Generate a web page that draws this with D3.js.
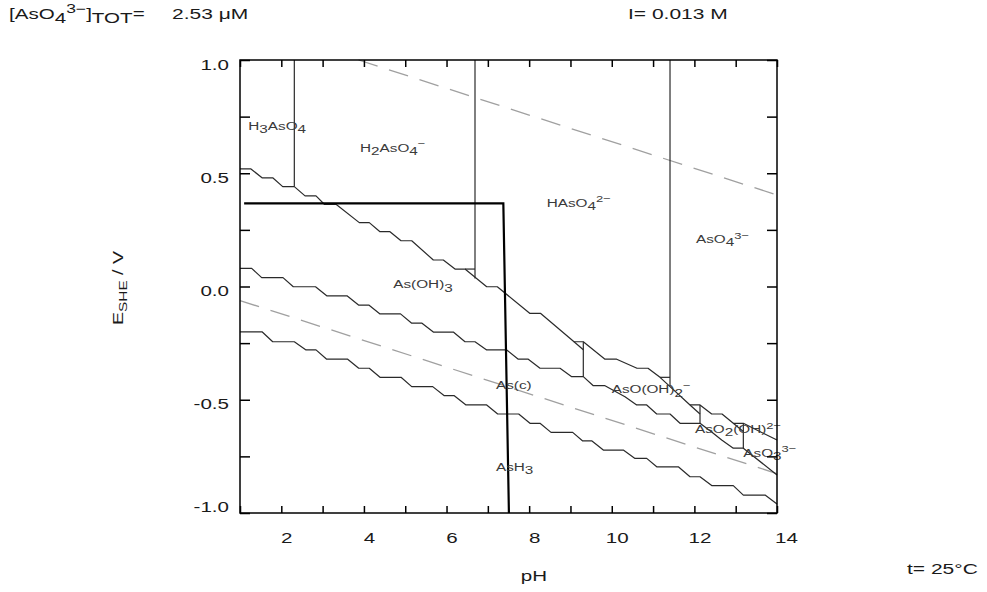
<!DOCTYPE html>
<html><head><meta charset="utf-8">
<script src="https://cdn.jsdelivr.net/npm/d3@7"></script>
<style>body{margin:0;background:#fff} svg{display:block}</style>
</head><body>
<svg id="c" width="987" height="592"></svg>
<script>
// ---------- data ----------
const pHDomain = [1, 14];
const EDomain = [-1, 1];
const pHTicks = [1, 2, 3, 4, 5, 6, 7, 8, 9, 10, 11, 12, 13, 14];
const pHTickLabels = ["", "2", "", "4", "", "6", "", "8", "", "10", "", "12", "", "14"];
const ETicks = [-1, -0.75, -0.5, -0.25, 0, 0.25, 0.5, 0.75, 1];
const ETickLabels = ["-1.0", "", "-0.5", "", "0.0", "", "0.5", "", "1.0"];

// As(V) / As(III) boundary
const lineAsV_AsIII = [
  [1.00, 0.519], [1.266, 0.519], [1.533, 0.480], [1.792, 0.480], [2.034, 0.441], [2.315, 0.441],
  [2.574, 0.400], [2.840, 0.400], [3.041, 0.363], [3.324, 0.363], [3.888, 0.282], [4.130, 0.282],
  [4.389, 0.242], [4.631, 0.242], [4.898, 0.202], [5.157, 0.202], [5.680, 0.117], [5.922, 0.117],
  [6.205, 0.077], [6.447, 0.077], [6.972, -0.001], [7.229, -0.001], [8.020, -0.119], [8.280, -0.119],
  [9.086, -0.244], [9.311, -0.244], [9.836, -0.321], [10.119, -0.321], [10.611, -0.361], [10.877, -0.361],
  [11.168, -0.401], [11.894, -0.523], [12.136, -0.523], [12.419, -0.563], [12.669, -0.563],
  [12.942, -0.604], [13.185, -0.604], [14.0, -0.678]
];
// As(III) / As(c) boundary
const lineAsIII_As = [
  [1.000, 0.080], [1.283, 0.080], [1.525, 0.039], [2.041, 0.039], [2.290, -0.001], [2.828, -0.001],
  [3.099, -0.041], [3.590, -0.041], [3.869, -0.082], [4.118, -0.082], [4.389, -0.121], [4.886, -0.121],
  [5.157, -0.162], [5.406, -0.162], [5.680, -0.201], [6.164, -0.201], [6.447, -0.244], [6.689, -0.244],
  [6.972, -0.280], [7.456, -0.280], [7.737, -0.321], [7.979, -0.321], [8.263, -0.361], [8.747, -0.361],
  [9.030, -0.398], [9.311, -0.398], [9.553, -0.438], [9.836, -0.438], [10.320, -0.487], [10.603, -0.523],
  [10.846, -0.523], [11.088, -0.563], [11.410, -0.563], [11.652, -0.604], [12.136, -0.604],
  [12.419, -0.642], [12.661, -0.678], [12.942, -0.714], [13.185, -0.714], [14.0, -0.832]
];
// As(c) / AsH3 boundary
const lineAs_AsH3 = [
  [1.000, -0.200], [1.533, -0.200], [1.792, -0.244], [2.315, -0.244], [2.598, -0.280], [2.840, -0.280],
  [3.099, -0.321], [3.607, -0.321], [3.874, -0.361], [4.130, -0.361], [4.389, -0.401], [4.898, -0.401],
  [5.157, -0.442], [5.665, -0.442], [5.946, -0.482], [6.188, -0.482], [6.471, -0.523], [6.972, -0.523],
  [7.238, -0.563], [7.747, -0.563], [8.020, -0.604], [8.263, -0.604], [8.529, -0.644], [9.054, -0.644],
  [9.296, -0.682], [9.521, -0.682], [9.795, -0.722], [10.279, -0.722], [10.562, -0.759], [10.846, -0.759],
  [11.088, -0.796], [11.611, -0.796], [11.894, -0.840], [12.136, -0.840], [12.419, -0.879], [12.942, -0.879],
  [13.185, -0.921], [13.711, -0.921], [14.0, -0.960]
];
// vertical boundaries: [pH, E top, E bottom]
const verticalBoundaries = [
  [2.315, 1.0, 0.441], [6.689, 1.0, 0.035], [11.410, 1.0, -0.439],
  [9.311, -0.244, -0.398], [12.136, -0.523, -0.604], [13.185, -0.604, -0.714]
];
// small joining segments at the junctions
const junctionSegments = [
  [[6.447, 0.077], [6.689, 0.077]],
  [[11.168, -0.401], [11.410, -0.401]],
  [[9.086, -0.244], [9.311, -0.279]],
  [[11.894, -0.523], [12.136, -0.563]],
  [[12.942, -0.604], [13.185, -0.640]]
];
const waterO2 = [[3.87, 1.0], [14.0, 0.404]];
const waterH2 = [[1.0, -0.062], [14.0, -0.826]];
const thickLine = [[1.10, 0.367], [7.375, 0.367], [7.51, -1.0]];

const speciesNames = [
  [["H", ""], ["3", "sub"], ["AsO", ""], ["4", "sub"]],
  [["H", ""], ["2", "sub"], ["AsO", ""], ["4", "sub"], ["−", "sup"]],
  [["HAsO", ""], ["4", "sub"], ["2−", "sup"]],
  [["AsO", ""], ["4", "sub"], ["3−", "sup"]],
  [["As(OH)", ""], ["3", "sub"]],
  [["As(c)", ""]],
  [["AsO(OH)", ""], ["2", "sub"], ["−", "sup"]],
  [["AsO", ""], ["2", "sub"], ["(OH)", ""], ["2−", "sup"]],
  [["AsO", ""], ["3", "sub"], ["3−", "sup"]],
  [["AsH", ""], ["3", "sub"]]
];
const speciesPH = [1.20, 3.905, 8.425, 12.04, 4.711, 7.197, 9.998, 12.015, 13.185, 7.197];
const speciesE = [0.691, 0.594, 0.352, 0.191, -0.008, -0.453, -0.472, -0.648, -0.751, -0.813];

// ---------- drawing ----------
const svg = d3.select("#c");
const FONT = "'Liberation Sans', Arial, Helvetica, sans-serif";
const x = d3.scaleLinear().domain(pHDomain).range([240, 777]);
const y = d3.scaleLinear().domain(EDomain).range([513, 60]);
const line = d3.line().x(d => x(d[0])).y(d => y(d[1]));

function rich(g, parts, size) {
  const t = g.append("text").attr("font-family", FONT).attr("font-size", size).attr("fill", "#222");
  let shift = 0;
  parts.forEach(([txt, kind]) => {
    const target = kind === "sub" ? 0.28 * size : kind === "sup" ? -0.4 * size : 0;
    const ts = t.append("tspan").text(txt).attr("dy", target - shift);
    if (kind === "sup") ts.attr("font-size", size * 0.85);
    shift = target;
  });
  return t;
}
function stretched(px, py, sx) {
  return svg.append("g").attr("transform", `translate(${px},${py}) scale(${sx},1)`);
}

// plot lines
const plot = svg.append("g");
[waterO2, waterH2].forEach(w => {
  plot.append("path").datum(w).attr("d", line).attr("fill", "none")
    .attr("stroke", "#a0a0a0").attr("stroke-width", 1.3).attr("stroke-dasharray", "20,12");
});
[lineAsV_AsIII, lineAsIII_As, lineAs_AsH3].forEach(l => {
  plot.append("path").datum(l).attr("d", line).attr("fill", "none")
    .attr("stroke", "#2a2a2a").attr("stroke-width", 1.2).attr("stroke-linejoin", "round");
});
plot.selectAll("line.vb").data(verticalBoundaries).join("line").attr("class", "vb")
  .attr("x1", d => x(d[0])).attr("x2", d => x(d[0]))
  .attr("y1", d => y(d[1])).attr("y2", d => y(d[2]))
  .attr("stroke", "#2a2a2a").attr("stroke-width", 1.2);
plot.selectAll("path.js").data(junctionSegments).join("path").attr("class", "js")
  .attr("d", line).attr("fill", "none").attr("stroke", "#2a2a2a").attr("stroke-width", 1.2);
plot.append("path").datum(thickLine).attr("d", line).attr("fill", "none")
  .attr("stroke", "#000").attr("stroke-width", 2.2);

// species labels
speciesNames.forEach((parts, i) => {
  rich(stretched(x(speciesPH[i]), y(speciesE[i]), 1.33), parts, 11.5).attr("fill", "#3a3a3a");
});

// frame + axes
svg.append("rect").attr("x", 240).attr("y", 60).attr("width", 537).attr("height", 453)
  .attr("fill", "none").attr("stroke", "#000").attr("stroke-width", 1.5);

function styleAxis(g) {
  g.select(".domain").remove();
  g.selectAll(".tick line").attr("stroke", "#000").attr("stroke-width", 1.5);
}
const gb = svg.append("g").attr("transform", `translate(0,${y(-1)})`)
  .call(d3.axisBottom(x).tickValues(pHTicks).tickSize(-7).tickFormat((d, i) => pHTickLabels[i]));
styleAxis(gb);
gb.selectAll(".tick text").attr("y", null).attr("dy", null)
  .attr("font-family", FONT).attr("font-size", 14).attr("fill", "#1a1a1a")
  .attr("transform", (d, i) => `translate(${i === pHTicks.length - 1 ? 9 : 5},30) scale(1.47,1)`);

const gt = svg.append("g").attr("transform", `translate(0,${y(1)})`)
  .call(d3.axisTop(x).tickValues(pHTicks).tickSize(-7).tickFormat(""));
styleAxis(gt);

const gl = svg.append("g").attr("transform", `translate(${x(1)},0)`)
  .call(d3.axisLeft(y).tickValues(ETicks).tickSize(-10).tickFormat((d, i) => ETickLabels[i]));
styleAxis(gl);
gl.selectAll(".tick text").attr("x", null).attr("dy", null)
  .attr("font-family", FONT).attr("font-size", 14).attr("fill", "#1a1a1a")
  .attr("transform", (d, i) => `translate(-11,${i === 0 ? -2 : 9}) scale(1.47,1)`);

const gr = svg.append("g").attr("transform", `translate(${x(14)},0)`)
  .call(d3.axisRight(y).tickValues(ETicks).tickSize(-10).tickFormat(""));
styleAxis(gr);

// axis titles
rich(stretched(534, 581, 1.47), [["pH", ""]], 14).attr("text-anchor", "middle").attr("fill", "#1a1a1a");
const ey = svg.append("g").attr("transform", `translate(123,288) rotate(-90) scale(1.4,1)`);
const et = ey.append("text").attr("font-family", FONT).attr("font-size", 14).attr("fill", "#1a1a1a")
  .attr("text-anchor", "middle");
et.append("tspan").text("E");
et.append("tspan").text("SHE").attr("font-size", 11).attr("dy", 4);
et.append("tspan").text(" / V").attr("dy", -4);

// header / footer
rich(stretched(9, 19, 1.47), [["[AsO", ""], ["4", "sub"], ["3−", "sup"], ["]", ""], ["TOT", "sub"], ["=", ""]], 14).attr("fill", "#1a1a1a");
rich(stretched(172, 19, 1.5), [["2.53 μM", ""]], 14).attr("fill", "#1a1a1a");
rich(stretched(628, 19, 1.5), [["I= 0.013 M", ""]], 14).attr("fill", "#1a1a1a");
rich(stretched(907, 574, 1.5), [["t= 25°C", ""]], 14).attr("fill", "#1a1a1a");
</script>
</body></html>
